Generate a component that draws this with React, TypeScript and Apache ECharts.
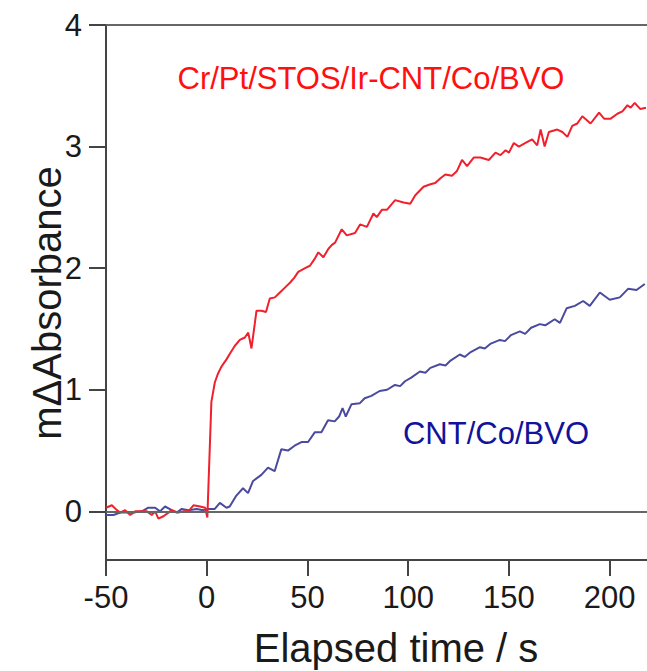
import React, { useEffect, useRef } from "react";
import * as echarts from "echarts";

// Transient absorbance traces: [elapsed time (s), mΔAbsorbance]
const redTrace: [number, number][] = [
  [-50, 0.03], [-47.1, 0.05], [-44.6, 0.01], [-43, -0.01], [-40.5, 0.01], [-38, -0.03],
  [-35.5, 0.0], [-32.2, 0.0], [-29.7, 0.0], [-27.3, -0.03], [-25.6, 0.0], [-24, -0.06],
  [-21.5, -0.04], [-19, -0.01], [-17.4, 0.01], [-14.1, -0.01], [-11.6, 0.0], [-9.1, 0.0],
  [-6.6, 0.05], [-3.3, 0.04], [-0.8, 0.03], [0.3, -0.05], [2.3, 0.9], [4, 1.06],
  [5.5, 1.13], [7.3, 1.19], [9.8, 1.25], [12, 1.31], [13.9, 1.36], [16.4, 1.41],
  [18.9, 1.43], [20.6, 1.47], [22.2, 1.34], [24.7, 1.65], [27.2, 1.65], [29.4, 1.64],
  [31.3, 1.75], [33.8, 1.76], [36.3, 1.8], [38.8, 1.84], [41.3, 1.88], [43.4, 1.92],
  [45.4, 1.97], [48.8, 2.0], [51.2, 2.02], [53.3, 2.07], [55.4, 2.13], [57.9, 2.09],
  [60.4, 2.16], [62, 2.19], [63.7, 2.21], [67, 2.32], [69.5, 2.27], [73.6, 2.29],
  [76.1, 2.36], [79.5, 2.34], [82.7, 2.45], [84.4, 2.42], [86.9, 2.48], [89.4, 2.48],
  [93.5, 2.56], [97.7, 2.54], [101, 2.53], [103.5, 2.6], [107.6, 2.67], [111, 2.69],
  [113.4, 2.7], [116, 2.74], [118.4, 2.77], [121.7, 2.76], [124.2, 2.8], [126.7, 2.89],
  [129.2, 2.84], [132.5, 2.91], [135.8, 2.91], [140, 2.89], [143.3, 2.95], [145.8, 2.93],
  [148.3, 2.97], [150, 2.95], [152.4, 3.03], [154.9, 3.0], [158.2, 3.03], [161.5, 3.06],
  [164, 3.01], [165.7, 3.14], [167.7, 3.0], [169.8, 3.12], [174, 3.14], [176.5, 3.12],
  [179, 3.08], [181.4, 3.17], [183.9, 3.19], [186.4, 3.25], [190.5, 3.19], [194.7, 3.28],
  [197.2, 3.23], [200.5, 3.23], [203.8, 3.27], [206.3, 3.29], [208.8, 3.34], [210.4, 3.32],
  [212.4, 3.36], [215.1, 3.31], [218, 3.32],
];

const blueTrace: [number, number][] = [
  [-50, -0.03], [-46.3, -0.03], [-43, -0.01], [-39.6, -0.01], [-36.3, -0.01], [-32.2, 0.0],
  [-29, 0.03], [-25.6, 0.03], [-23.2, 0.0], [-20.7, 0.04], [-17.4, 0.01], [-14.9, -0.01],
  [-12.4, 0.02], [-9.1, 0.01], [-5, 0.02], [-1.7, 0.01], [0.6, 0.02], [4, 0.02],
  [6.5, 0.07], [9.8, 0.03], [11.4, 0.04], [14.7, 0.13], [18, 0.19], [20.5, 0.15],
  [23, 0.25], [27.1, 0.3], [30.4, 0.36], [33.7, 0.33], [37, 0.51], [40.3, 0.5],
  [43.6, 0.54], [47, 0.57], [50.3, 0.57], [53.6, 0.65], [56.9, 0.65], [60.2, 0.75],
  [63.5, 0.74], [65.7, 0.78], [67.4, 0.85], [69, 0.78], [71.8, 0.88], [76, 0.89],
  [78.4, 0.93], [81.7, 0.95], [85.8, 0.99], [89.5, 1.0], [93.4, 1.04], [96, 1.03],
  [98.4, 1.07], [101.5, 1.1], [105.8, 1.15], [108.5, 1.14], [111, 1.18], [115.7, 1.21],
  [118.5, 1.2], [121, 1.24], [125.6, 1.29], [128, 1.27], [131, 1.31], [135.6, 1.35],
  [138, 1.34], [141, 1.38], [145.5, 1.41], [148, 1.4], [151, 1.45], [155.4, 1.48],
  [158, 1.46], [161, 1.51], [165.3, 1.54], [168, 1.53], [172.7, 1.58], [175.3, 1.55],
  [178.6, 1.67], [182.7, 1.69], [186.8, 1.73], [190.1, 1.69], [195.1, 1.8], [200, 1.74],
  [205, 1.76], [209.1, 1.83], [213.3, 1.82], [217.4, 1.87],
];

const yTicks = [0, 1, 2, 3, 4];
const referenceLevels = [0, 4];

const FONT = "'Liberation Sans', Arial, sans-serif";

export default function App() {
  const ref = useRef<HTMLDivElement>(null);

  useEffect(() => {
    if (!ref.current) return;
    const chart = echarts.init(ref.current, null, { renderer: "svg" });
    chart.setOption({
      animation: false,
      backgroundColor: "#ffffff",
      grid: { left: 106, right: 0, top: 25, bottom: 111, containLabel: false },
      xAxis: {
        type: "value",
        min: -50,
        max: 218.5,
        interval: 50,
        axisLine: { show: true, onZero: false, lineStyle: { color: "#444", width: 2 } },
        axisTick: { show: true, inside: false, length: 16, lineStyle: { color: "#444", width: 2 } },
        axisLabel: { color: "#1a1a1a", fontSize: 31, fontFamily: FONT, margin: 22, showMaxLabel: false },
        splitLine: { show: false },
      },
      yAxis: {
        type: "value",
        min: -0.4,
        max: 4,
        axisLine: { show: true, onZero: false, lineStyle: { color: "#444", width: 2 } },
        axisTick: {
          show: true,
          inside: false,
          length: 17,
          customValues: yTicks,
          lineStyle: { color: "#444", width: 2 },
        },
        axisLabel: {
          color: "#1a1a1a",
          fontSize: 31,
          fontFamily: FONT,
          margin: 24,
          customValues: yTicks,
        },
        splitLine: { show: false },
      },
      graphic: [
        {
          type: "text",
          x: 396,
          y: 648,
          style: {
            text: "Elapsed time / s",
            fontSize: 40,
            fontFamily: FONT,
            fill: "#1a1a1a",
            align: "center",
            verticalAlign: "middle",
          },
        },
        {
          type: "text",
          x: 47,
          y: 303,
          rotation: Math.PI / 2,
          style: {
            text: "mΔAbsorbance",
            fontSize: 40,
            fontFamily: FONT,
            fill: "#1a1a1a",
            align: "center",
            verticalAlign: "middle",
          },
        },
        {
          type: "text",
          x: 371,
          y: 78,
          style: {
            text: "Cr/Pt/STOS/Ir-CNT/Co/BVO",
            fontSize: 31,
            fontFamily: FONT,
            fill: "#ff1010",
            align: "center",
            verticalAlign: "middle",
          },
        },
        {
          type: "text",
          x: 496,
          y: 433,
          style: {
            text: "CNT/Co/BVO",
            fontSize: 31,
            fontFamily: FONT,
            fill: "#12129a",
            align: "center",
            verticalAlign: "middle",
          },
        },
      ],
      series: [
        {
          type: "line",
          data: [],
          z: 1,
          silent: true,
          markLine: {
            silent: true,
            symbol: ["none", "none"],
            label: { show: false },
            lineStyle: { color: "#666", width: 2, type: "solid" },
            data: referenceLevels.map((v) => ({ yAxis: v })),
          },
        },
        {
          name: "CNT/Co/BVO",
          type: "line",
          data: blueTrace,
          z: 3,
          showSymbol: false,
          symbol: "none",
          lineStyle: { color: "#4a4a9e", width: 2 },
        },
        {
          name: "Cr/Pt/STOS/Ir-CNT/Co/BVO",
          type: "line",
          data: redTrace,
          z: 4,
          showSymbol: false,
          symbol: "none",
          lineStyle: { color: "#f0202c", width: 2 },
        },
      ],
    });
    return () => chart.dispose();
  }, []);

  return (
    <div
      ref={ref}
      style={{ position: "fixed", left: 0, top: 0, width: 647, height: 671 }}
    />
  );
}
